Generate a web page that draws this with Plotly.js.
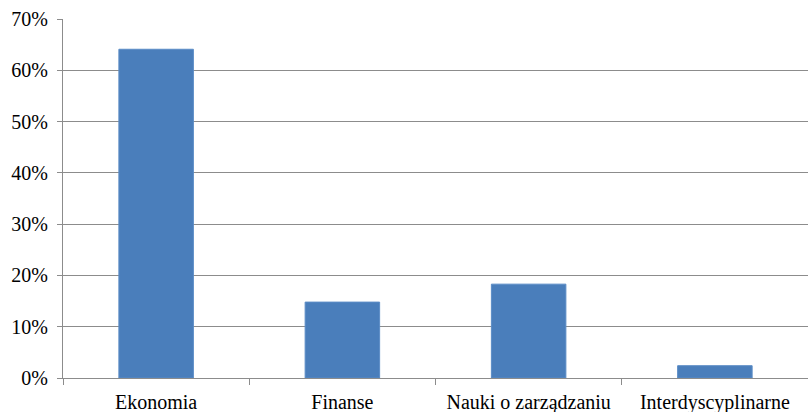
<!DOCTYPE html>
<html>
<head>
<meta charset="utf-8">
<script src="https://cdn.plot.ly/plotly-3.0.1.min.js"></script>
<style>html,body{margin:0;padding:0;background:#fff;}#chart{width:808px;height:412px;}</style>
</head>
<body>
<div id="chart"></div>
<script>
const categories = ["Ekonomia", "Finanse", "Nauki o zarządzaniu", "Interdyscyplinarne"];
const values = [0.641, 0.148, 0.183, 0.024];
const yTickValues = [0, 0.1, 0.2, 0.3, 0.4, 0.5, 0.6, 0.7];

const FONT = {family: "Liberation Serif", size: 20, color: "#000000"};

const bars = {
  type: "bar",
  x: categories,
  y: values,
  width: 0.4,
  marker: {color: "#4a7ebb", line: {color: "#5b8cc6", width: 1}},
  hoverinfo: "none"
};
// carrier for the tick labels on the overlay axes (draws nothing)
const labelCarrier = {
  type: "scatter",
  mode: "none",
  x: categories,
  y: values,
  xaxis: "x2",
  yaxis: "y2",
  hoverinfo: "none"
};

const layout = {
  width: 808,
  height: 412,
  margin: {l: 63, r: 0, t: 19, b: 34, pad: 0},
  paper_bgcolor: "#ffffff",
  plot_bgcolor: "#ffffff",
  showlegend: false,
  font: FONT,
  xaxis: {
    type: "category",
    showgrid: false,
    showline: true,
    linecolor: "#8c8c8c",
    linewidth: 1,
    ticks: "outside",
    tickson: "boundaries",
    ticklen: 6,
    tickcolor: "#8c8c8c",
    showticklabels: false,
    fixedrange: true
  },
  xaxis2: {
    type: "category",
    overlaying: "x",
    matches: "x",
    anchor: "y2",
    side: "bottom",
    showgrid: false,
    showline: false,
    zeroline: false,
    ticks: "outside",
    ticklen: 6,
    tickcolor: "rgba(0,0,0,0)",
    tickfont: FONT,
    fixedrange: true
  },
  yaxis: {
    range: [0, 0.7],
    tickvals: yTickValues,
    showgrid: true,
    gridcolor: "#8c8c8c",
    gridwidth: 1,
    showline: true,
    linecolor: "#8c8c8c",
    linewidth: 1,
    ticks: "outside",
    ticklen: 5,
    tickcolor: "#8c8c8c",
    showticklabels: false,
    zeroline: false,
    fixedrange: true
  },
  yaxis2: {
    overlaying: "y",
    matches: "y",
    anchor: "x2",
    side: "left",
    tickvals: yTickValues,
    tickformat: ".0%",
    showgrid: false,
    showline: false,
    zeroline: false,
    ticks: "outside",
    ticklen: 10,
    tickcolor: "rgba(0,0,0,0)",
    tickfont: FONT,
    fixedrange: true
  }
};

Plotly.newPlot("chart", [bars, labelCarrier], layout, {displayModeBar: false, staticPlot: true});
</script>
</body>
</html>
